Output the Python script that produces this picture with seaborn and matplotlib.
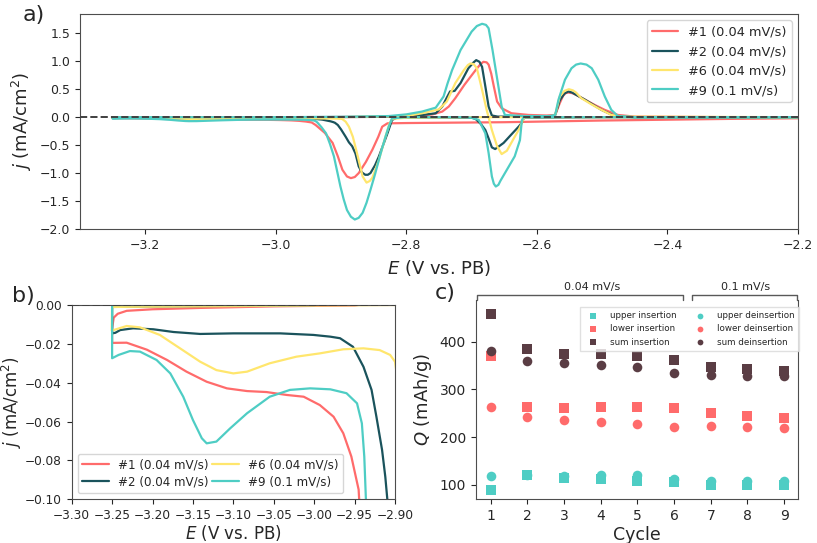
import numpy as np
import pandas as pd
import seaborn as sns
import matplotlib
matplotlib.use("Agg")
import matplotlib.pyplot as plt
import matplotlib.transforms as mtransforms

# ---- colours of the four CV cycles and the capacity series
RED, DARK, YELLOW, TURQ, BROWN = "#FF6B6B", "#1A535C", "#FFE66D", "#4ECDC4", "#5A3D44"

# ---- CV data: cathodic branch (left->right) and anodic branch (left->right)
# cycle #1 (0.04 mV/s)
E1_cat = [-3.25, -3.232, -3.207, -3.182, -3.158, -3.133, -3.108, -3.083, -3.059, -3.034, -3.013,
          -2.993, -2.976, -2.964, -2.954, -2.945, -2.939, -2.925, -2.913, -2.905, -2.898, -2.891,
          -2.885, -2.879, -2.873, -2.862, -2.852, -2.843, -2.837, -2.829, -2.80, -2.75, -2.70,
          -2.65, -2.60, -2.50, -2.40, -2.30, -2.20]
J1_cat = [-0.0195, -0.0194, -0.023, -0.0283, -0.0343, -0.0395, -0.0429, -0.0443, -0.0448, -0.0463,
          -0.0472, -0.0515, -0.0575, -0.066, -0.078, -0.095, -0.14, -0.28, -0.46, -0.70, -0.94,
          -1.06, -1.09, -1.07, -1.00, -0.80, -0.58, -0.35, -0.17, -0.11, -0.105, -0.10, -0.095,
          -0.09, -0.08, -0.06, -0.045, -0.03, -0.02]
E1_an = [-3.25, -3.248, -3.243, -3.232, -3.20, -3.141, -3.05, -2.95, -2.85, -2.80, -2.776, -2.760,
         -2.745, -2.735, -2.725, -2.711, -2.694, -2.687, -2.682, -2.677, -2.674, -2.670, -2.666,
         -2.661, -2.654, -2.639, -2.613, -2.585, -2.572, -2.565, -2.560, -2.556, -2.552, -2.546,
         -2.540, -2.526, -2.510, -2.496, -2.476, -2.45, -2.30, -2.20]
J1_an = [-0.012, -0.0065, -0.0045, -0.003, -0.0022, -0.0015, -0.0007, -0.0002, 0.005, 0.015, 0.03,
         0.05, 0.10, 0.19, 0.34, 0.58, 0.84, 0.94, 0.99, 0.98, 0.94, 0.78, 0.55, 0.28, 0.16, 0.07,
         0.04, 0.03, 0.04, 0.25, 0.38, 0.43, 0.44, 0.43, 0.40, 0.31, 0.21, 0.13, 0.04, 0.01, 0.0,
         0.0]

# cycle #2 (0.04 mV/s)
E2_cat = [-3.25, -3.246, -3.240, -3.224, -3.199, -3.174, -3.141, -3.100, -3.042, -3.001, -2.980,
          -2.968, -2.952, -2.939, -2.929, -2.923, -2.916, -2.912, -2.9095, -2.905, -2.900, -2.893,
          -2.888, -2.883, -2.878, -2.873, -2.868, -2.863, -2.859, -2.855, -2.848, -2.842, -2.835,
          -2.829, -2.822, -2.815, -2.75, -2.70, -2.694, -2.686, -2.679, -2.674, -2.669, -2.664,
          -2.658, -2.651, -2.640, -2.628, -2.623, -2.620, -2.50, -2.20]
J2_cat = [-0.0146, -0.0143, -0.0129, -0.012, -0.0125, -0.0139, -0.0149, -0.0146, -0.0146, -0.0154,
          -0.0163, -0.0171, -0.0215, -0.0318, -0.0437, -0.0575, -0.0746, -0.0884, -0.10, -0.14,
          -0.22, -0.35, -0.45, -0.52, -0.65, -0.88, -0.99, -1.03, -1.03, -1.00, -0.86, -0.70,
          -0.48, -0.29, -0.05, -0.01, -0.005, -0.01, -0.03, -0.12, -0.23, -0.38, -0.54, -0.57,
          -0.52, -0.46, -0.32, -0.17, -0.10, -0.01, 0.0, 0.0]
E2_an = [-3.25, -3.0, -2.85, -2.80, -2.775, -2.755, -2.745, -2.738, -2.733, -2.726, -2.717, -2.705,
         -2.697, -2.693, -2.688, -2.684, -2.679, -2.674, -2.669, -2.66, -2.58, -2.572, -2.565,
         -2.558, -2.552, -2.546, -2.540, -2.526, -2.501, -2.481, -2.45, -2.20]
J2_an = [-0.001, 0.0, 0.005, 0.02, 0.04, 0.07, 0.19, 0.35, 0.46, 0.47, 0.61, 0.875, 0.98, 1.02,
         0.99, 0.90, 0.55, 0.19, 0.03, 0.01, 0.01, 0.04, 0.30, 0.42, 0.46, 0.44, 0.40, 0.31, 0.13,
         0.02, 0.0, 0.0]

# cycle #6 (0.04 mV/s)
E6_cat = [-3.2505, -3.232, -3.2155, -3.191, -3.166, -3.141, -3.121, -3.100, -3.083, -3.055, -3.022,
          -2.993, -2.964, -2.939, -2.919, -2.906, -2.900, -2.898, -2.893, -2.888, -2.882, -2.877,
          -2.872, -2.867, -2.861, -2.856, -2.852, -2.842, -2.832, -2.826, -2.822, -2.80, -2.70,
          -2.20]
J6_cat = [-0.0132, -0.0108, -0.0115, -0.0154, -0.0223, -0.0292, -0.0335, -0.0352, -0.0343, -0.030,
          -0.0266, -0.0249, -0.0228, -0.0223, -0.0232, -0.0257, -0.0292, -0.035, -0.08, -0.17,
          -0.35, -0.58, -0.82, -1.06, -1.17, -1.14, -1.08, -0.76, -0.35, -0.12, -0.03, -0.01,
          0.0, 0.0]
E6_an = [-3.25, -2.90, -2.80, -2.776, -2.750, -2.738, -2.725, -2.712, -2.706, -2.702, -2.697,
         -2.692, -2.684, -2.677, -2.674, -2.669, -2.661, -2.654, -2.646, -2.634, -2.628, -2.623,
         -2.620, -2.58, -2.572, -2.565, -2.558, -2.551, -2.545, -2.540, -2.532, -2.518, -2.506,
         -2.486, -2.47, -2.20]
J6_an = [-0.001, 0.0, 0.02, 0.07, 0.14, 0.28, 0.61, 0.84, 0.93, 0.96, 0.95, 0.875, 0.49, 0.13,
         0.0, -0.23, -0.52, -0.66, -0.60, -0.35, -0.23, -0.10, 0.0, 0.01, 0.04, 0.37, 0.47, 0.50,
         0.48, 0.44, 0.34, 0.24, 0.16, 0.04, 0.01, 0.0]

# cycle #9 (0.1 mV/s)
E9_cat = [-3.25, -3.242, -3.228, -3.2155, -3.195, -3.178, -3.162, -3.150, -3.139, -3.133, -3.121,
          -3.104, -3.083, -3.055, -3.030, -3.005, -2.980, -2.960, -2.947, -2.941, -2.938, -2.936,
          -2.930, -2.923, -2.917, -2.911, -2.906, -2.901, -2.896, -2.891, -2.885, -2.879, -2.873,
          -2.867, -2.861, -2.855, -2.848, -2.842, -2.837, -2.832, -2.827, -2.822, -2.80, -2.71,
          -2.700, -2.689, -2.679, -2.674, -2.669, -2.666, -2.663, -2.659, -2.656, -2.649, -2.634,
          -2.626, -2.623, -2.620, -2.45, -2.20]
J9_cat = [-0.0274, -0.0257, -0.0237, -0.024, -0.0283, -0.0352, -0.0472, -0.0592, -0.0686, -0.0712,
          -0.0703, -0.0635, -0.0557, -0.0472, -0.0437, -0.0429, -0.0434, -0.0454, -0.0506, -0.0609,
          -0.078, -0.10, -0.18, -0.29, -0.48, -0.70, -0.97, -1.24, -1.47, -1.66, -1.78, -1.83,
          -1.80, -1.71, -1.53, -1.30, -1.02, -0.76, -0.55, -0.35, -0.17, -0.02, 0.0, 0.0, -0.01,
          -0.05, -0.29, -0.64, -1.06, -1.19, -1.24, -1.21, -1.14, -1.00, -0.70, -0.41, -0.05, 0.0,
          0.0, 0.0]
E9_an = [-3.25, -3.0, -2.90, -2.827, -2.80, -2.776, -2.755, -2.743, -2.737, -2.730, -2.717, -2.700,
         -2.692, -2.684, -2.678, -2.674, -2.668, -2.659, -2.654, -2.649, -2.62, -2.58, -2.572,
         -2.567, -2.557, -2.547, -2.540, -2.533, -2.524, -2.516, -2.506, -2.496, -2.486, -2.476,
         -2.45, -2.20]
J9_an = [0.0, 0.0, 0.005, 0.02, 0.05, 0.10, 0.17, 0.37, 0.60, 0.84, 1.20, 1.53, 1.63, 1.67, 1.65,
         1.59, 1.20, 0.55, 0.19, 0.04, 0.02, 0.02, 0.04, 0.31, 0.67, 0.875, 0.94, 0.96, 0.94,
         0.875, 0.67, 0.37, 0.13, 0.02, 0.0, 0.0]

cv_labels = ["#1 (0.04 mV/s)", "#2 (0.04 mV/s)", "#6 (0.04 mV/s)", "#9 (0.1 mV/s)"]

# ---- capacities per cycle (mAh/g)
cycles = [1, 2, 3, 4, 5, 6, 7, 8, 9]
upper_ins = [89, 120, 115, 113, 108, 105, 99, 99, 99]
lower_ins = [370, 264, 261, 262, 262, 260, 250, 244, 241]
sum_ins = [459, 384, 375, 374, 369, 362, 346, 342, 338]
upper_deins = [118, 121, 119, 120, 120, 113, 108, 107, 108]
lower_deins = [263, 242, 236, 232, 227, 222, 224, 222, 220]
sum_deins = [381, 360, 355, 352, 346, 335, 331, 329, 328]

sns.set_style("ticks", {"axes.edgecolor": "0.3", "xtick.color": "0.15", "ytick.color": "0.15"})
plt.rcParams["font.family"] = ["DejaVu Sans"]

fig = plt.figure(figsize=(8.17, 5.43), dpi=100)
W, H = 817, 543
ax_a = fig.add_axes([80 / W, 1 - 229.3 / H, 718 / W, 215.3 / H])
ax_b = fig.add_axes([71.7 / W, 1 - 499.3 / H, 323.3 / W, 194.3 / H])
ax_c = fig.add_axes([475.7 / W, 1 - 499.3 / H, 322 / W, 199.3 / H])

curves = [(E1_cat, J1_cat, E1_an, J1_an, RED),
          (E2_cat, J2_cat, E2_an, J2_an, DARK),
          (E6_cat, J6_cat, E6_an, J6_an, YELLOW),
          (E9_cat, J9_cat, E9_an, J9_an, TURQ)]

# one closed path per cycle: cathodic from the upper vertex down, then anodic back up
frames = []
for lab, (ec, jc, ea, ja, col) in zip(cv_labels, curves):
    df = pd.DataFrame({"E": list(ec[::-1]) + list(ea), "j": list(jc[::-1]) + list(ja)})
    df["cycle"] = lab
    frames.append(df)
cv = pd.concat(frames, ignore_index=True)
palette = dict(zip(cv_labels, [RED, DARK, YELLOW, TURQ]))

for ax in (ax_a, ax_b):
    for lab in cv_labels:
        sub = cv[cv["cycle"] == lab]
        sns.lineplot(data=sub, x="E", y="j", sort=False, estimator=None, color=palette[lab],
                     lw=1.6, label=lab, ax=ax)
    ax.axhline(0, color="0.25", ls="--", lw=1.4, zorder=5)

# panel a
ax_a.set_xlim(-3.3, -2.2)
ax_a.set_ylim(-2.005, 1.845)
ax_a.set_xticks([-3.2, -3.0, -2.8, -2.6, -2.4, -2.2])
ax_a.set_yticks([-2.0, -1.5, -1.0, -0.5, 0.0, 0.5, 1.0, 1.5])
ax_a.tick_params(labelsize=9)
ax_a.set_xlabel(r"$E$ (V vs. PB)", fontsize=13)
ax_a.set_ylabel(r"$j$ (mA/cm$^2$)", fontsize=13)
ax_a.legend(loc="upper right", fontsize=9.3)

# panel b
ax_b.set_xlim(-3.3, -2.9)
ax_b.set_ylim(-0.1, 0.0)
ax_b.set_xticks([-3.30, -3.25, -3.20, -3.15, -3.10, -3.05, -3.00, -2.95, -2.90])
ax_b.set_yticks([-0.10, -0.08, -0.06, -0.04, -0.02, 0.00])
ax_b.tick_params(labelsize=8.7)
ax_b.set_xlabel(r"$E$ (V vs. PB)", fontsize=12, labelpad=1)
ax_b.set_ylabel(r"$j$ (mA/cm$^2$)", fontsize=12, labelpad=1)
ax_b.legend(loc="lower left", ncol=2, fontsize=8.6, columnspacing=0.3, handlelength=2.2,
            labelspacing=0.35)

# panel c
series = [(upper_ins, TURQ, "s", "upper insertion"),
          (lower_ins, RED, "s", "lower insertion"),
          (sum_ins, BROWN, "s", "sum insertion"),
          (upper_deins, TURQ, "o", "upper deinsertion"),
          (lower_deins, RED, "o", "lower deinsertion"),
          (sum_deins, BROWN, "o", "sum deinsertion")]
for vals, col, mk, lab in series:
    sns.scatterplot(x=cycles, y=vals, color=col, marker=mk, s=48, linewidth=0, label=lab, ax=ax_c)
ax_c.set_xlim(0.59, 9.37)
ax_c.set_ylim(69.4, 487.5)
ax_c.set_xticks(cycles)
ax_c.set_yticks([100, 200, 300, 400])
ax_c.tick_params(labelsize=10)
ax_c.spines["top"].set_visible(False)
ax_c.set_xlabel("Cycle", fontsize=12.5, labelpad=2)
ax_c.set_ylabel(r"$Q$ (mAh/g)", fontsize=13)
ax_c.legend(loc="upper right", bbox_to_anchor=(1.005, 0.967), borderaxespad=0, ncol=2,
            fontsize=6.3, markerscale=0.6, columnspacing=1.6, handletextpad=1.0,
            fancybox=False, edgecolor="0.85", labelspacing=0.5, borderpad=0.5)

# rate brackets above panel c
trans = mtransforms.blended_transform_factory(ax_c.transData, ax_c.transAxes)
for x0, x1, xt, txt in [(0.62, 6.25, 3.76, "0.04 mV/s"), (6.48, 9.34, 7.94, "0.1 mV/s")]:
    ax_c.plot([x0, x0, x1, x1], [1.0, 1.025, 1.025, 1.0], color="0.35", lw=1,
              transform=trans, clip_on=False)
    ax_c.text(xt, 1.064, txt, transform=trans, ha="center", va="center", fontsize=8)

# panel letters
fig.text(23 / W, 1 - 15 / H, "a)", fontsize=16, va="center")
fig.text(12 / W, 1 - 296 / H, "b)", fontsize=16, va="center")
fig.text(435 / W, 1 - 293 / H, "c)", fontsize=16, va="center")

fig.savefig("out.png", dpi=100)
